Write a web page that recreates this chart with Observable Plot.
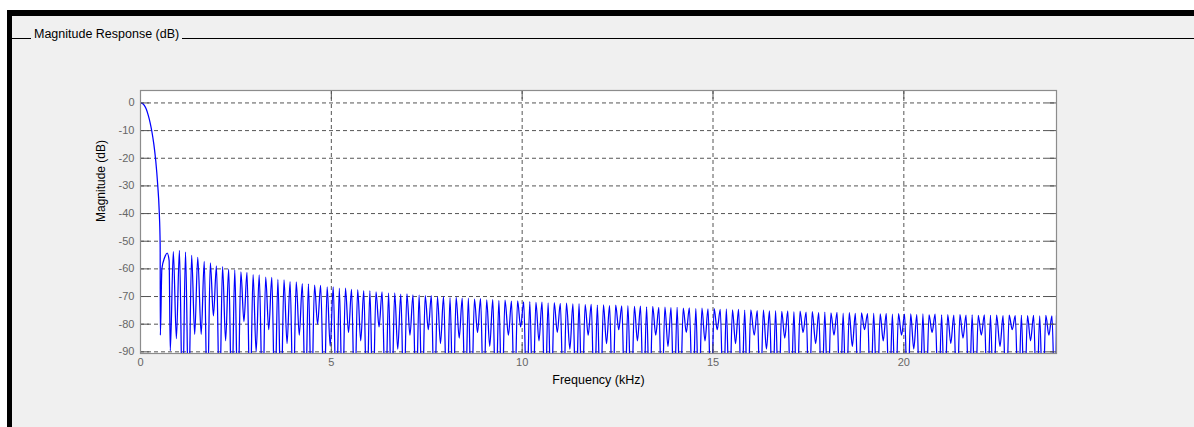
<!DOCTYPE html>
<html><head><meta charset="utf-8">
<script src="https://cdn.jsdelivr.net/npm/d3@7"></script>
<script src="https://cdn.jsdelivr.net/npm/@observablehq/plot@0.6"></script>
<style>
html,body{margin:0;padding:0;background:#fff;width:1194px;height:427px;overflow:hidden;font-family:"Liberation Sans",Arial,sans-serif;}
#outer{position:absolute;left:7px;top:10px;width:1187px;height:417px;background:#000;}
#inner{position:absolute;left:12px;top:16px;width:1182px;height:411px;background:#f0f0f0;}
#panelLine{position:absolute;left:12px;top:38px;width:1182px;height:1px;background:#000;}
#panelTitle{position:absolute;left:31px;top:27px;padding:0 3px;background:#f0f0f0;font-size:12.5px;line-height:14px;color:#000;}
#chart{position:absolute;left:0;top:0;}
</style></head>
<body>
<div id="outer"></div><div id="inner"></div>
<div id="panelLine"></div><div id="panelTitle">Magnitude Response (dB)</div>
<div id="chart"></div>
<script>
// ---- data ----
const xTicks = [0, 5, 10, 15, 20];
const yTicks = [0, -10, -20, -30, -40, -50, -60, -70, -80, -90];

// passband / main lobe and first sidelobe
const mainLobeKHz = [0, 0.05, 0.1, 0.15, 0.2, 0.25, 0.3, 0.35, 0.4, 0.45, 0.49, 0.515, 0.52, 0.56, 0.63, 0.70, 0.75];
const mainLobeDb  = [0, -0.2, -0.9, -2.2, -4.3, -7, -10.5, -15, -21, -29.5, -39, -51.2, -84, -60, -56, -54.3, -57];

// stopband nulls
const nullKHz = [0.78,0.94,1.10,1.26,1.42,1.59,1.75,1.91,2.07,2.23,2.39,2.55,2.71,2.87,3.03,3.20,3.36,3.52,3.68,3.84,
4.00,4.16,4.32,4.48,4.64,4.81,4.97,5.13,5.29,5.45,5.61,5.77,5.93,6.09,6.25,6.42,6.58,6.74,6.90,7.06,
7.22,7.38,7.54,7.70,7.86,8.03,8.19,8.35,8.51,8.67,8.83,8.99,9.15,9.31,9.47,9.64,9.80,9.96,10.12,10.28,
10.44,10.60,10.76,10.92,11.08,11.25,11.41,11.57,11.73,11.89,12.05,12.21,12.37,12.53,12.69,12.86,13.02,13.18,13.34,13.50,
13.66,13.82,13.98,14.14,14.30,14.47,14.63,14.79,14.95,15.11,15.27,15.43,15.59,15.75,15.91,16.08,16.24,16.40,16.56,16.72,
16.88,17.04,17.20,17.36,17.52,17.69,17.85,18.01,18.17,18.33,18.49,18.65,18.81,18.97,19.13,19.30,19.46,19.62,19.78,19.94,
20.10,20.26,20.42,20.58,20.74,20.91,21.07,21.23,21.39,21.55,21.71,21.87,22.03,22.19,22.35,22.52,22.68,22.84,23.00,23.16,
23.32,23.48,23.64,23.80,23.96];
const nullDb = [-89.6,-85.2,-110,-110,-83.7,-83.7,-110,-77,-110,-86,-110,-110,-79,-110,-90,-110,-82,-110,-110,-87,
-110,-84,-110,-110,-80,-110,-88,-110,-110,-83,-110,-86,-110,-110,-81,-110,-110,-89,-110,-84,
-110,-110,-82,-110,-87,-110,-110,-85,-110,-110,-83,-110,-88,-110,-110,-84,-110,-81,-110,-110,
-86,-110,-110,-83,-110,-89,-110,-110,-84,-110,-110,-87,-110,-82,-110,-110,-86,-110,-110,-84,
-110,-88,-110,-110,-83,-110,-110,-86,-110,-82,-110,-110,-87,-110,-110,-84,-110,-89,-110,-110,
-85,-110,-110,-83,-110,-87,-110,-110,-84,-110,-110,-88,-110,-82,-110,-110,-86,-110,-110,-84,
-110,-89,-110,-110,-83,-110,-110,-87,-110,-85,-110,-110,-84,-110,-110,-88,-110,-82,-110,-110,
-86,-110,-110,-84,-110];

// stopband sidelobe peaks
const peakKHz = [0.86,1.02,1.18,1.34,1.50,1.67,1.83,1.99,2.15,2.31,2.47,2.63,2.79,2.95,3.11,3.28,3.44,3.60,3.76,3.92,
4.08,4.24,4.40,4.56,4.72,4.89,5.05,5.21,5.37,5.53,5.69,5.85,6.01,6.17,6.33,6.50,6.66,6.82,6.98,7.14,
7.30,7.46,7.62,7.78,7.94,8.11,8.27,8.43,8.59,8.75,8.91,9.07,9.23,9.39,9.55,9.72,9.88,10.04,10.20,10.36,
10.52,10.68,10.84,11.00,11.16,11.33,11.49,11.65,11.81,11.97,12.13,12.29,12.45,12.61,12.77,12.94,13.10,13.26,13.42,13.58,
13.74,13.90,14.06,14.22,14.38,14.55,14.71,14.87,15.03,15.19,15.35,15.51,15.67,15.83,15.99,16.16,16.32,16.48,16.64,16.80,
16.96,17.12,17.28,17.44,17.60,17.77,17.93,18.09,18.25,18.41,18.57,18.73,18.89,19.05,19.21,19.38,19.54,19.70,19.86,20.02,
20.18,20.34,20.50,20.66,20.82,20.99,21.15,21.31,21.47,21.63,21.79,21.95,22.11,22.27,22.43,22.60,22.76,22.92,23.08,23.24,
23.40,23.56,23.72,23.88,24.00];
const peakDb = [-53.8,-53.3,-53.9,-55.1,-55.8,-57.3,-57.8,-58.9,-59.2,-60.1,-60.4,-61.1,-61.3,-62.1,-62.2,-63.0,-63.1,-63.8,-64.0,-64.6,
-64.7,-65.3,-65.4,-65.9,-66.0,-66.5,-66.5,-67.0,-67.0,-67.4,-67.5,-67.9,-67.9,-68.3,-68.3,-68.7,-68.7,-69.1,-69.0,-69.4,
-69.4,-69.7,-69.7,-70.1,-70.0,-70.4,-70.3,-70.6,-70.6,-70.9,-70.8,-71.2,-71.1,-71.4,-71.3,-71.7,-71.6,-71.9,-71.8,-72.1,
-72.0,-72.3,-72.2,-72.5,-72.4,-72.7,-72.6,-72.9,-72.8,-73.1,-73.0,-73.3,-73.1,-73.4,-73.3,-73.6,-73.5,-73.7,-73.6,-73.9,
-73.8,-74.0,-73.9,-74.2,-74.1,-74.3,-74.2,-74.5,-74.4,-74.6,-74.5,-74.8,-74.6,-74.9,-74.8,-75.1,-74.9,-75.2,-75.1,-75.4,
-75.2,-75.5,-75.3,-75.6,-75.5,-75.8,-75.6,-75.9,-75.7,-76.0,-75.8,-76.1,-75.9,-76.2,-76.0,-76.3,-76.1,-76.4,-76.2,-76.4,
-76.3,-76.5,-76.3,-76.6,-76.4,-76.6,-76.5,-76.7,-76.5,-76.7,-76.6,-76.8,-76.6,-76.8,-76.7,-76.9,-76.7,-76.9,-76.8,-76.9,
-76.8,-77.0,-76.8,-77.0,-76.9];

// ---- build the table ----
const pts = [];
mainLobeKHz.forEach((f, i) => pts.push({f, db: mainLobeDb[i]}));
nullKHz.forEach((f, i) => pts.push({f, db: nullDb[i]}));
peakKHz.forEach((f, i) => pts.push({f, db: peakDb[i]}));
pts.sort((a, b) => a.f - b.f);

const W = 1194, H = 427;
const mL = 140, mR = 138, mT = 90, mB = 74;
const innerW = W - mL - mR, innerH = H - mT - mB;
const tickLen = 9;
const gridStyle = {stroke: "#555", strokeOpacity: 1, strokeWidth: 1, strokeDasharray: "4,3"};
const tickStyle = {stroke: "#555", strokeOpacity: 1, strokeWidth: 1};

const chart = Plot.plot({
  width: W, height: H,
  marginLeft: mL, marginRight: mR, marginTop: mT, marginBottom: mB,
  x: {domain: [0, 24]},
  y: {domain: [-90.6, 4.5]},
  style: {background: "transparent", fontFamily: "Liberation Sans, Arial, sans-serif", fontSize: "11px", overflow: "visible"},
  marks: [
    Plot.frame({fill: "white", stroke: null}),
    Plot.gridY(yTicks, gridStyle),
    Plot.gridX(xTicks, gridStyle),
    Plot.line(pts, {x: "f", y: "db", stroke: "#0000ff", strokeWidth: 1.25, curve: "monotone-x", clip: true}),
    Plot.tickY(yTicks, {y: d => d, insetRight: innerW - tickLen, ...tickStyle}),
    Plot.tickY(yTicks, {y: d => d, insetLeft: innerW - tickLen, ...tickStyle}),
    Plot.tickX(xTicks, {x: d => d, insetTop: innerH - tickLen, ...tickStyle}),
    Plot.tickX(xTicks, {x: d => d, insetBottom: innerH - tickLen, ...tickStyle}),
    Plot.frame({stroke: "#8c8c8c", strokeWidth: 1.2}),
    Plot.axisX(xTicks, {tickSize: 0, tickPadding: 5, tickFormat: d => `${d}`, label: null, fill: "#666", fontSize: 11}),
    Plot.axisY(yTicks, {tickSize: 0, tickPadding: 6, tickFormat: d => `${d}`, label: null, fill: "#666", fontSize: 11}),
    Plot.text(["Frequency (kHz)"], {frameAnchor: "bottom", dy: 30, fill: "#000", fontSize: 12.5}),
    Plot.text(["Magnitude (dB)"], {frameAnchor: "left", dx: -39, rotate: -90, fill: "#000", fontSize: 12})
  ]
});
document.getElementById("chart").appendChild(chart);
</script>
</body></html>
